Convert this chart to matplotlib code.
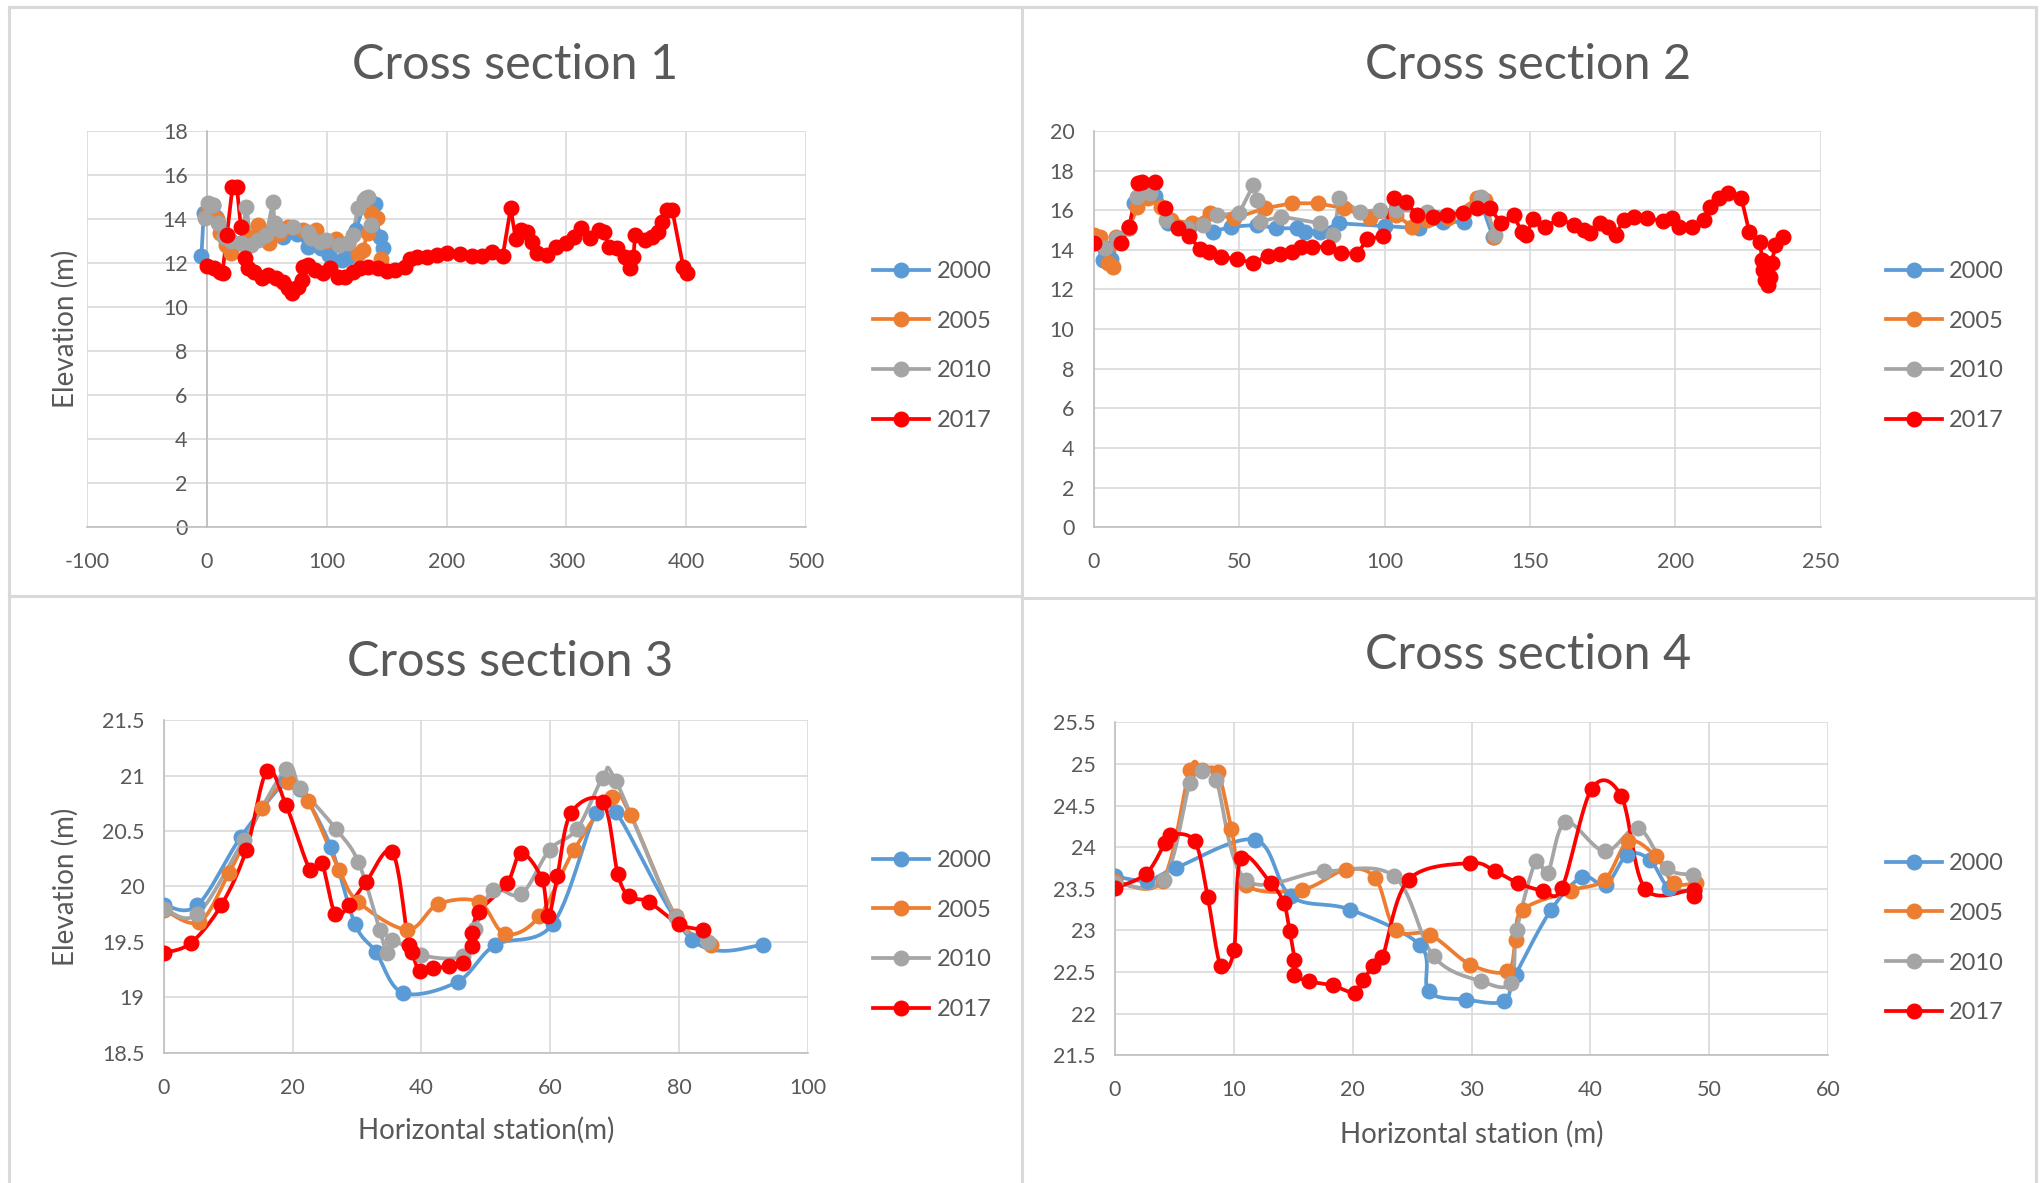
import matplotlib
matplotlib.use("Agg")
import matplotlib.pyplot as plt
import numpy as np
from matplotlib.lines import Line2D
from matplotlib.ticker import FuncFormatter

plt.rcParams["font.family"] = ["Lato", "DejaVu Sans"]

YEARS  = ["2000", "2005", "2010", "2017"]
COLORS = ["#5B9BD5", "#ED7D31", "#A5A5A5", "#FF0000"]
TXT    = "#595959"
GRID   = "#D9D9D9"

# ---------------------------------------------------------------------------
# Cross section 1
# ---------------------------------------------------------------------------
cs1_x_2000 = [-4.7, -2.8, 5.0, 7.8, 12, 20, 30, 45, 55, 63.5, 75, 84, 95, 102, 113, 117.5, 124, 133, 140, 144, 146.7]
cs1_y_2000 = [12.32, 14.26, 14.64, 14.1, 13.4, 13.0, 12.9, 13.2, 13.4, 13.2, 13.3, 12.75, 12.7, 12.36, 12.14, 12.29, 13.5, 14.94, 14.7, 13.2, 12.67]
cs1_x_2005 = [-1, 2, 8, 10.6, 16, 20, 28, 35, 42.5, 52, 60, 67.5, 80, 91, 100, 108, 118, 126, 130, 134, 137, 142, 145.6]
cs1_y_2005 = [14.2, 14.5, 14.0, 13.35, 12.8, 12.44, 12.9, 13.2, 13.73, 12.9, 13.3, 13.65, 13.5, 13.5, 13.0, 13.1, 12.9, 12.4, 12.6, 13.35, 14.26, 14.03, 12.2]
cs1_x_2010 = [-2, 0.8, 5, 9, 14, 20, 28, 32.8, 37, 42.5, 49.4, 55, 56.4, 60.5, 71.7, 84, 87, 94, 99.4, 110.5, 117.5, 121.7, 125.8, 131.4, 134, 137]
cs1_y_2010 = [14.03, 14.71, 14.64, 13.8, 13.2, 13.0, 12.9, 14.56, 12.82, 13.05, 13.27, 14.79, 13.8, 13.5, 13.65, 13.42, 13.12, 12.97, 13.05, 12.82, 12.9, 13.27, 14.48, 14.86, 15.0, 13.73]
cs1_x_2017 = [0, 5.4, 10.4, 12.9, 16.6, 21.2, 24.9, 28.2, 31.5, 34.4, 39.4, 45.6, 51, 57.3, 63.5, 67.6, 71, 76, 79.3, 80,
              84, 90.5, 96.7, 102.9, 109, 115, 121.6, 127.8, 134, 142.3, 150.6, 156.8, 165.1, 169.3, 175.5, 183.8, 192.1,
              200.4, 210.8, 221.2, 229.5, 237.8, 246.9, 253.5, 257.7, 261.8, 266.8, 270.9, 275.1, 283.4, 291.7, 300,
              306.2, 312.4, 319.9, 327, 331.1, 335.3, 342.3, 349, 353.1, 356, 357.3, 365.6, 371.4, 376.8, 379.7, 383.8,
              388.4, 397.5, 400.8]
cs1_y_2017 = [11.88, 11.79, 11.6, 11.57, 13.28, 15.44, 15.44, 13.65, 12.22, 11.76, 11.61, 11.31, 11.46, 11.31, 11.16, 10.85,
              10.63, 10.93, 11.23, 11.84, 11.91, 11.69, 11.54, 11.76, 11.38, 11.38, 11.61, 11.76, 11.84, 11.76, 11.66,
              11.69, 11.84, 12.17, 12.29, 12.29, 12.37, 12.44, 12.41, 12.32, 12.32, 12.52, 12.34, 14.49, 13.08, 13.5,
              13.43, 12.97, 12.44, 12.37, 12.75, 12.9, 13.2, 13.58, 13.12, 13.5, 13.43, 12.75, 12.67, 12.29, 11.76,
              12.26, 13.28, 13.05, 13.2, 13.43, 13.88, 14.41, 14.41, 11.84, 11.57]

# ---------------------------------------------------------------------------
# Cross section 2
# ---------------------------------------------------------------------------
cs2_x_2000 = [0, 3.2, 5.9, 8, 12.2, 14, 17.6, 21.2, 25.7, 33, 41, 47.3, 56.3, 62.6, 69.8, 72.5, 77.9, 84.2, 100, 112, 120, 127.3, 132.7, 137.2]
cs2_y_2000 = [14.6, 13.49, 13.52, 14.5, 15.17, 16.35, 17.19, 16.7, 15.34, 15.2, 14.92, 15.17, 15.26, 15.09, 15.09, 14.92, 14.92, 15.34, 15.2, 15.09, 15.4, 15.42, 16.6, 14.67]
cs2_x_2005 = [0, 2.3, 5, 6.5, 7.7, 12.2, 15, 18.5, 23, 26.6, 33.8, 40.1, 48.2, 59, 68, 77, 86, 95, 104, 109.4, 114.7, 121.9, 131.8, 134.5, 137.8]
cs2_y_2005 = [14.75, 14.67, 13.32, 13.15, 14.67, 15.09, 16.18, 16.6, 16.18, 15.51, 15.34, 15.85, 15.59, 16.1, 16.35, 16.35, 16.1, 15.59, 15.76, 15.17, 15.51, 15.59, 16.6, 16.52, 14.67]
cs2_x_2010 = [0, 4, 8, 12, 15, 19.4, 24.8, 32, 37.4, 42.4, 50, 54.9, 56.3, 57.2, 64.4, 77.9, 82.4, 84.5, 91.4, 98.6, 104, 114.7, 127.3, 133.1, 138.1]
cs2_y_2010 = [14.4, 14.1, 14.6, 15.1, 16.69, 16.85, 15.51, 15.09, 15.26, 15.76, 15.85, 17.28, 16.52, 15.42, 15.68, 15.34, 14.75, 16.6, 15.93, 16.01, 16.01, 15.93, 15.85, 16.69, 14.75]
cs2_x_2017 = [0, 9.5, 12.2, 15.3, 16.7, 20.9, 24.5, 28.8, 32.9, 36.5, 39.6, 43.7, 49.1, 54.9, 59.9, 64, 68, 71.2, 75.2, 80.6,
              85.1, 90.5, 94.1, 99.5, 103.1, 107.2, 111.2, 116.5, 121.6, 127, 131.8, 136.3, 139.9, 144.4, 147.1, 148.6,
              151.1, 155.2, 160.1, 165.1, 168.7, 170.5, 174.1, 176.8, 179.5, 182.2, 185.8, 190.3, 195.7, 198.9, 201.1,
              205.6, 210, 211.9, 215.1, 218.2, 222.7, 225.4, 229, 229.9, 230.2, 230.8, 231.7, 232.6, 233.1, 234.4, 237.1]
cs2_y_2017 = [14.36, 14.36, 15.17, 17.39, 17.44, 17.44, 16.1, 15.09, 14.7, 14.03, 13.91, 13.66, 13.52, 13.36, 13.69, 13.79,
              13.91, 14.16, 14.16, 14.16, 13.86, 13.79, 14.53, 14.7, 16.6, 16.43, 15.76, 15.68, 15.76, 15.85, 16.1, 16.1,
              15.37, 15.76, 14.92, 14.75, 15.54, 15.17, 15.56, 15.26, 15.0, 14.84, 15.34, 15.17, 14.75, 15.51, 15.68,
              15.59, 15.46, 15.59, 15.17, 15.17, 15.51, 16.18, 16.6, 16.85, 16.6, 14.92, 14.42, 13.49, 12.99, 12.48,
              12.23, 12.65, 13.32, 14.25, 14.67]

# ---------------------------------------------------------------------------
# Cross section 3
# ---------------------------------------------------------------------------
cs3_x_2000 = [0, 5.2, 12, 19, 21.2, 25.9, 29.7, 32.9, 37.1, 45.6, 51.4, 60.4, 67.1, 70.2, 82.0, 93.1]
cs3_y_2000 = [19.83, 19.83, 20.45, 20.95, 20.88, 20.36, 19.66, 19.41, 19.04, 19.14, 19.47, 19.66, 20.66, 20.67, 19.52, 19.47]
cs3_x_2005 = [0, 5.5, 10.1, 15.3, 19.2, 22.4, 27.2, 30.2, 37.8, 42.6, 48.9, 53.0, 58.3, 63.7, 69.6, 72.5, 79.5, 84.9]
cs3_y_2005 = [19.79, 19.68, 20.12, 20.71, 20.94, 20.77, 20.15, 19.86, 19.61, 19.84, 19.86, 19.57, 19.73, 20.33, 20.81, 20.64, 19.73, 19.47]
cs3_x_2010 = [0, 5.2, 12.4, 19, 21.2, 26.7, 30.2, 33.5, 34.6, 35.5, 40, 46.4, 48.3, 51.1, 55.5, 59.9, 64.2, 68.2, 70.2, 79.5, 84.5]
cs3_y_2010 = [19.8, 19.75, 20.42, 21.06, 20.89, 20.52, 20.22, 19.61, 19.4, 19.52, 19.38, 19.37, 19.62, 19.97, 19.93, 20.33, 20.52, 20.98, 20.95, 19.72, 19.5]
cs3_x_2017 = [0, 4.2, 8.9, 12.8, 16.0, 19.0, 22.7, 24.5, 26.6, 28.7, 31.4, 35.5, 38.0, 38.5, 39.7, 41.8, 44.2, 46.5, 47.9,
              47.9, 48.9, 53.3, 55.5, 58.7, 59.7, 61.1, 63.2, 68.2, 70.5, 72.3, 75.3, 80.0, 83.7]
cs3_y_2017 = [19.40, 19.49, 19.83, 20.33, 21.04, 20.73, 20.15, 20.21, 19.75, 19.83, 20.04, 20.31, 19.47, 19.41, 19.24,
              19.26, 19.28, 19.31, 19.46, 19.58, 19.77, 20.03, 20.30, 20.07, 19.73, 20.09, 20.66, 20.76, 20.11, 19.91,
              19.86, 19.66, 19.61]

# ---------------------------------------------------------------------------
# Cross section 4
# ---------------------------------------------------------------------------
cs4_x_2000 = [0, 2.7, 5.1, 11.8, 14.8, 19.8, 25.7, 26.4, 29.5, 32.7, 33.7, 36.7, 39.3, 41.3, 43.1, 45.0, 46.6, 48.7]
cs4_y_2000 = [23.65, 23.6, 23.75, 24.09, 23.41, 23.25, 22.82, 22.27, 22.17, 22.15, 22.47, 23.25, 23.64, 23.55, 23.91, 23.85, 23.51, 23.48]
cs4_x_2005 = [0, 4.0, 6.3, 7.3, 8.65, 9.8, 11.0, 15.7, 19.4, 21.9, 23.6, 26.5, 29.9, 33.0, 33.7, 34.3, 38.4, 41.2, 43.2, 45.5, 47.0, 48.9]
cs4_y_2005 = [23.59, 23.6, 24.93, 24.93, 24.9, 24.22, 23.55, 23.49, 23.73, 23.63, 23.01, 22.95, 22.59, 22.51, 22.89, 23.25, 23.48, 23.61, 24.07, 23.89, 23.57, 23.57]
cs4_x_2010 = [0, 4.1, 6.3, 7.3, 8.5, 11.0, 17.6, 23.5, 26.8, 30.8, 33.3, 33.8, 35.4, 36.4, 37.9, 41.2, 44.0, 46.4, 48.6]
cs4_y_2010 = [23.57, 23.61, 24.77, 24.91, 24.81, 23.61, 23.71, 23.65, 22.69, 22.39, 22.37, 23.0, 23.83, 23.69, 24.30, 23.95, 24.23, 23.75, 23.67]
cs4_x_2017 = [0, 2.6, 4.2, 4.6, 6.7, 7.8, 8.9, 10.0, 10.6, 13.1, 14.2, 14.7, 15.1, 15.1, 16.3, 18.3, 20.2, 20.9, 21.7, 22.5,
              24.7, 29.9, 32.0, 33.9, 36.0, 37.6, 40.1, 42.6, 44.6, 48.7, 48.7]
cs4_y_2017 = [23.51, 23.68, 24.05, 24.15, 24.07, 23.40, 22.57, 22.76, 23.87, 23.57, 23.33, 22.99, 22.65, 22.47, 22.39, 22.34,
              22.25, 22.41, 22.57, 22.68, 23.61, 23.81, 23.71, 23.57, 23.48, 23.51, 24.70, 24.61, 23.50, 23.49, 23.41]


def catmull_rom(x, y, n=14):
    """Excel-style smoothed line through the points (markers stay on the data)."""
    p = np.column_stack([x, y]).astype(float)
    p = np.vstack([p[0], p, p[-1]])
    t = np.linspace(0, 1, n)[:, None]
    out = []
    for i in range(1, len(p) - 2):
        p0, p1, p2, p3 = p[i - 1], p[i], p[i + 1], p[i + 2]
        seg = 0.5 * ((2 * p1) + (-p0 + p2) * t + (2 * p0 - 5 * p1 + 4 * p2 - p3) * t ** 2
                     + (-p0 + 3 * p1 - 3 * p2 + p3) * t ** 3)
        out.append(seg if i == 1 else seg[1:])
    out = np.vstack(out)
    return out[:, 0], out[:, 1]


fmt = FuncFormatter(lambda v, _: f"{v:g}")
LW, MS = 2.7, 10.5

fig = plt.figure(figsize=(20.44, 11.83), dpi=100)

panels = [
    dict(rect=[0.0427, 0.5543, 0.3516, 0.3350], title="Cross section 1", tpos=(0.252, 0.945),
         series=[(cs1_x_2000, cs1_y_2000), (cs1_x_2005, cs1_y_2005), (cs1_x_2010, cs1_y_2010), (cs1_x_2017, cs1_y_2017)],
         xlim=(-100, 500), xstep=100, ylim=(0, 18), ystep=2, smooth=False, spine0=True,
         ylabel=("Elevation (m)", 0.032), xlabel=None, leg=(0.427, 0.7075)),
    dict(rect=[0.5351, 0.5543, 0.3557, 0.3350], title="Cross section 2", tpos=(0.7475, 0.945),
         series=[(cs2_x_2000, cs2_y_2000), (cs2_x_2005, cs2_y_2005), (cs2_x_2010, cs2_y_2010), (cs2_x_2017, cs2_y_2017)],
         xlim=(0, 250), xstep=50, ylim=(0, 20), ystep=2, smooth=False, spine0=False,
         ylabel=None, xlabel=None, leg=(0.9225, 0.7075)),
    dict(rect=[0.0802, 0.1101, 0.3150, 0.2812], title="Cross section 3", tpos=(0.2495, 0.440),
         series=[(cs3_x_2000, cs3_y_2000), (cs3_x_2005, cs3_y_2005), (cs3_x_2010, cs3_y_2010), (cs3_x_2017, cs3_y_2017)],
         xlim=(0, 100), xstep=20, ylim=(18.5, 21.5), ystep=0.5, smooth=True, spine0=False,
         ylabel=("Elevation (m)", 0.032), xlabel=("Horizontal station(m)", 0.0445), leg=(0.427, 0.2096)),
    dict(rect=[0.5455, 0.1079, 0.3489, 0.2815], title="Cross section 4", tpos=(0.7475, 0.446),
         series=[(cs4_x_2000, cs4_y_2000), (cs4_x_2005, cs4_y_2005), (cs4_x_2010, cs4_y_2010), (cs4_x_2017, cs4_y_2017)],
         xlim=(0, 60), xstep=10, ylim=(21.5, 25.5), ystep=0.5, smooth=True, spine0=False,
         ylabel=None, xlabel=("Horizontal station (m)", 0.0415), leg=(0.9225, 0.207)),
]

for p in panels:
    ax = fig.add_axes(p["rect"])
    for (xs, ys), year, col in zip(p["series"], YEARS, COLORS):
        if p["smooth"]:
            sx, sy = catmull_rom(xs, ys)
            ax.plot(sx, sy, color=col, lw=LW, zorder=3, solid_capstyle="round")
        else:
            ax.plot(xs, ys, color=col, lw=LW, zorder=3)
        ax.plot(xs, ys, ls="none", marker="o", ms=MS, color=col, zorder=4)

    ax.set_xlim(*p["xlim"])
    ax.set_ylim(*p["ylim"])
    ax.set_xticks(np.arange(p["xlim"][0], p["xlim"][1] + 1e-9, p["xstep"]))
    ax.set_yticks(np.arange(p["ylim"][0], p["ylim"][1] + 1e-9, p["ystep"]))
    ax.xaxis.set_major_formatter(fmt)
    ax.yaxis.set_major_formatter(fmt)
    ax.grid(True, color=GRID, lw=1.2, zorder=0)
    ax.tick_params(length=0, labelsize=15.5, labelcolor=TXT)
    ax.tick_params(axis="x", pad=18)
    ax.tick_params(axis="y", pad=14)
    for s in ["top", "right"]:
        ax.spines[s].set_visible(False)
    for s in ["left", "bottom"]:
        ax.spines[s].set_color("#BFBFBF")
        ax.spines[s].set_linewidth(1.2)
    if p["spine0"]:
        ax.spines["left"].set_position(("data", 0))
    ax.set_axisbelow(True)

    fig.text(p["tpos"][0], p["tpos"][1], p["title"], ha="center", va="center", fontsize=35, color=TXT)
    if p["ylabel"]:
        fig.text(p["ylabel"][1], p["rect"][1] + p["rect"][3] / 2, p["ylabel"][0], rotation=90,
                 ha="center", va="center", fontsize=20, color=TXT)
    if p["xlabel"]:
        fig.text(p["rect"][0] + p["rect"][2] / 2, p["xlabel"][1], p["xlabel"][0],
                 ha="center", va="center", fontsize=20, color=TXT)

    handles = [Line2D([], [], color=c, lw=LW, marker="o", ms=MS) for c in COLORS]
    fig.legend(handles, YEARS, loc="center left", bbox_to_anchor=p["leg"], frameon=False,
               fontsize=17, labelcolor=TXT, handlelength=2.4, handletextpad=0.3,
               labelspacing=1.22, borderpad=0, borderaxespad=0)

# chart frames
W, H = 2044, 1183
frame = dict(color=GRID, lw=2.2, transform=fig.transFigure)
for x0, y0, x1, y1 in [(9, 7, 2036, 7), (9, 7, 9, H), (2036, 7, 2036, H), (1022, 7, 1022, H),
                       (9, 596, 1021, 596), (1023, 598, 2036, 598)]:
    fig.add_artist(Line2D([x0 / W, x1 / W], [1 - y0 / H, 1 - y1 / H], **frame))

fig.savefig("out.png", dpi=100)
